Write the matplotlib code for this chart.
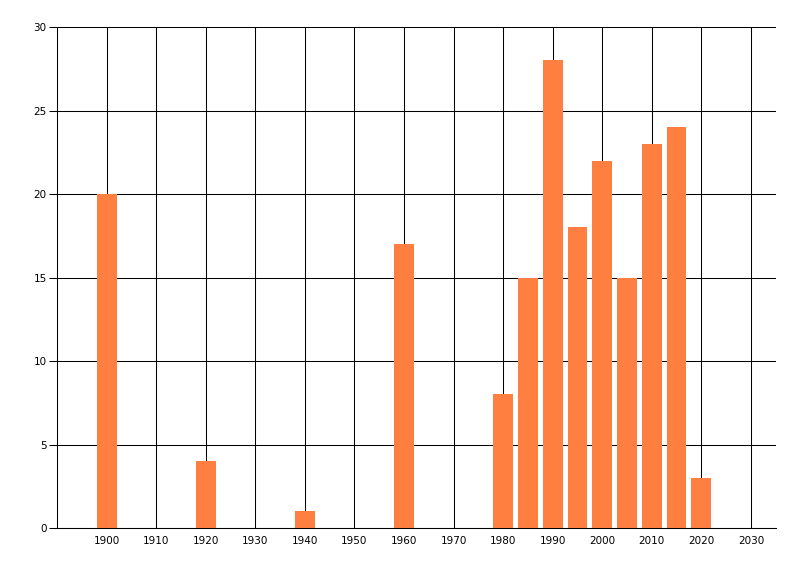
import matplotlib
matplotlib.use('Agg')
from matplotlib import pyplot as plt

# bar data
years = [1900, 1920, 1940, 1960, 1980, 1985, 1990, 1995, 2000, 2005, 2010, 2015, 2020]
counts = [20, 4, 1, 17, 8, 15, 28, 18, 22, 15, 23, 24, 3]
x_ticks = list(range(1900, 2031, 10))
y_ticks = [0, 5, 10, 15, 20, 25, 30]

bar_color = '#FF7F40'

fig = plt.figure(figsize=(8, 5.76), dpi=100)
ax = fig.add_axes([0.0713, 0.0833, 0.8983, 0.8698])

ax.bar(years, counts, width=4, color=bar_color, zorder=3)

ax.set_xlim(1890, 2035)
ax.set_ylim(0, 30)
ax.set_xticks(x_ticks)
ax.set_yticks(y_ticks)

# black grid on every tick, 1px wide
ax.grid(True, color='black', linewidth=0.75, zorder=0)
ax.set_axisbelow(True)

for side in ['top', 'right']:
    ax.spines[side].set_visible(False)
for side in ['left', 'bottom']:
    ax.spines[side].set_color('black')
    ax.spines[side].set_linewidth(0.75)

ax.tick_params(axis='y', length=6, width=0.75, pad=1.5, labelsize=7.5)
ax.tick_params(axis='x', length=0, pad=6, labelsize=7.5)

plt.savefig('out.png', dpi=100)
